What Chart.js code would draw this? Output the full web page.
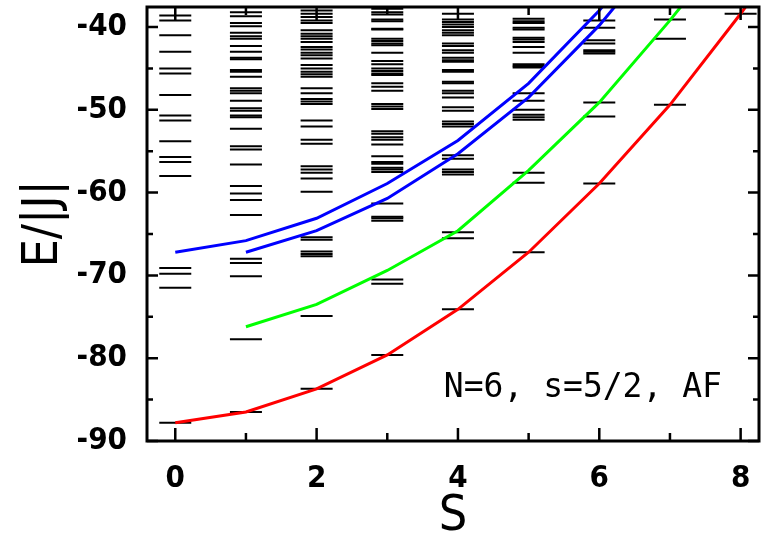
<!DOCTYPE html>
<html>
<head>
<meta charset="utf-8">
<script src="https://cdn.jsdelivr.net/npm/chart.js@4.4.1/dist/chart.umd.min.js"></script>
<style>
  html, body { margin: 0; padding: 0; background: #fff; }
  #wrap { width: 761px; height: 543px; }
</style>
</head>
<body>
<div id="wrap"><canvas id="spectrum" width="761" height="543"></canvas></div>
<script>
// energy levels E/|J| for each total spin S
const levelsS0 = [-38.6, -39.2, -41.0, -43.0, -45.0, -45.6, -48.2, -50.7, -51.3, -53.8, -55.7, -56.3, -58.0, -69.1, -69.8, -71.5, -87.8];
const levelsS1 = [-38.2, -38.7, -39.5, -39.9, -40.7, -41.1, -41.4, -42.3, -43.0, -43.7, -43.9, -45.2, -45.4, -46.0, -47.4, -47.7, -48.0, -48.9, -49.8, -50.1, -50.7, -50.9, -52.3, -54.4, -54.8, -56.6, -59.2, -60.1, -60.9, -62.7, -68.0, -68.5, -70.1, -77.7, -86.5];
const levelsS2 = [-38.0, -38.4, -38.8, -39.2, -39.5, -40.4, -40.8, -41.1, -41.4, -41.8, -42.4, -42.7, -43.1, -43.4, -43.8, -44.6, -45.0, -45.4, -45.7, -46.0, -47.4, -48.0, -48.7, -49.0, -49.3, -51.3, -52.0, -53.6, -54.1, -56.8, -57.2, -57.6, -58.3, -59.9, -65.4, -65.7, -67.1, -67.4, -67.7, -74.9, -83.7];
const levelsS3 = [-37.8, -38.2, -38.5, -39.1, -39.3, -40.2, -40.3, -41.4, -41.7, -42.0, -42.2, -43.1, -44.1, -44.5, -45.0, -45.3, -45.6, -45.8, -46.8, -47.2, -47.7, -49.3, -49.6, -49.9, -52.6, -52.9, -53.3, -53.6, -54.2, -55.6, -56.3, -56.5, -57.0, -57.2, -57.5, -61.3, -62.9, -63.1, -63.4, -70.5, -71.0, -79.6];
const levelsS4 = [-38.4, -39.1, -39.4, -39.7, -40.0, -40.4, -40.7, -41.0, -42.0, -42.3, -42.8, -43.1, -43.7, -44.0, -44.2, -45.2, -45.4, -46.6, -46.8, -47.7, -48.0, -48.5, -49.7, -50.1, -51.4, -51.7, -52.0, -55.5, -55.9, -57.2, -57.5, -57.8, -64.8, -65.5, -74.1];
const levelsS5 = [-39.0, -39.3, -39.5, -40.1, -40.3, -41.3, -41.5, -41.8, -42.4, -43.1, -44.5, -44.7, -44.9, -48.0, -48.9, -50.0, -50.6, -50.9, -51.2, -57.6, -58.8, -67.2];
const levelsS6 = [-39.2, -40.1, -41.6, -42.0, -42.8, -43.0, -43.2, -49.1, -50.8, -58.9];
const levelsS7 = [-39.1, -41.4, -49.4];
const levelsS8 = [-38.4];
const allLevels = [levelsS0, levelsS1, levelsS2, levelsS3, levelsS4, levelsS5, levelsS6, levelsS7, levelsS8];

// rotational bands (lines)
const redS = [0, 1, 2, 3, 4, 5, 6, 7, 8, 9];
const redE = [-87.8, -86.5, -83.7, -79.6, -74.1, -67.2, -58.9, -49.4, -38.4, -26.5];
const greenS = [1, 2, 3, 4, 5, 6, 7, 8];
const greenE = [-76.2, -73.5, -69.4, -64.6, -57.3, -49.1, -39.2, -28.5];
const blueAS = [0, 1, 2, 3, 4, 5, 6, 7];
const blueAE = [-67.2, -65.8, -63.1, -58.9, -53.7, -46.8, -38.0, -27.5];
const blueBS = [1, 2, 3, 4, 5, 6, 7];
const blueBE = [-67.2, -64.6, -60.7, -55.3, -48.5, -39.8, -29.5];

// axes
const xTicks = [0, 2, 4, 6, 8];
const xMinor = [1, 3, 5, 7];
const yTicks = [-90, -80, -70, -60, -50, -40];
const yMinor = [-85, -75, -65, -55, -45];

const toXY = (xs, ys) => xs.map((s, i) => ({ x: s, y: ys[i] }));
const levelPoints = [];
allLevels.forEach((arr, s) => arr.forEach(e => levelPoints.push({ x: s, y: e })));

const tickFont = { family: '"DejaVu Sans Condensed", "DejaVu Sans"', size: 31, weight: 'bold' };
const titleFont = { family: '"DejaVu Sans Condensed", "DejaVu Sans"', size: 50 };

const frame = {
  id: 'frame',
  afterDatasetsDraw(chart) {
    const { ctx, chartArea: a, scales: { x, y } } = chart;
    ctx.save();
    ctx.strokeStyle = '#000';
    ctx.lineCap = 'butt';
    ctx.lineWidth = 2.5;
    const tickX = (v, len) => {
      const px = x.getPixelForValue(v);
      ctx.beginPath();
      ctx.moveTo(px, a.bottom); ctx.lineTo(px, a.bottom - len);
      ctx.moveTo(px, a.top); ctx.lineTo(px, a.top + len);
      ctx.stroke();
    };
    const tickY = (v, len) => {
      const py = y.getPixelForValue(v);
      ctx.beginPath();
      ctx.moveTo(a.left, py); ctx.lineTo(a.left + len, py);
      ctx.moveTo(a.right, py); ctx.lineTo(a.right - len, py);
      ctx.stroke();
    };
    xTicks.forEach(v => tickX(v, 13));
    xMinor.forEach(v => tickX(v, 8));
    yTicks.forEach(v => tickY(v, 11));
    yMinor.forEach(v => tickY(v, 6));
    ctx.lineWidth = 3;
    ctx.strokeRect(a.left, a.top, a.right - a.left, a.bottom - a.top);

    ctx.fillStyle = '#000';
    ctx.font = '33px "DejaVu Sans Mono"';
    ctx.textAlign = 'left';
    ctx.textBaseline = 'middle';
    ctx.fillText('N=6, s=5/2, AF', x.getPixelForValue(3.8), y.getPixelForValue(-83.6));
    ctx.restore();
  }
};

new Chart(document.getElementById('spectrum'), {
  type: 'scatter',
  data: {
    datasets: [
      { label: 'red', data: toXY(redS, redE), showLine: true, borderColor: '#ff0000', borderWidth: 3, pointRadius: 0, tension: 0 },
      { label: 'green', data: toXY(greenS, greenE), showLine: true, borderColor: '#00ff00', borderWidth: 3, pointRadius: 0, tension: 0 },
      { label: 'blueA', data: toXY(blueAS, blueAE), showLine: true, borderColor: '#0000ff', borderWidth: 3, pointRadius: 0, tension: 0 },
      { label: 'blueB', data: toXY(blueBS, blueBE), showLine: true, borderColor: '#0000ff', borderWidth: 3, pointRadius: 0, tension: 0 },
      { label: 'levels', data: levelPoints, showLine: false, pointStyle: 'line', pointRadius: 16, borderColor: '#000', borderWidth: 2, backgroundColor: '#000' }
    ]
  },
  options: {
    responsive: false,
    animation: false,
    events: [],
    layout: { autoPadding: false, padding: { top: 7, right: 2, left: 0, bottom: 0 } },
    plugins: { legend: { display: false }, tooltip: { enabled: false } },
    scales: {
      x: {
        type: 'linear', min: -0.4, max: 8.26,
        grid: { display: false, drawTicks: false },
        border: { display: false },
        afterBuildTicks: s => { s.ticks = xTicks.map(v => ({ value: v })); },
        afterFit: s => { s.height = 102; s.paddingLeft = 0; s.paddingRight = 0; },
        ticks: { color: '#000', padding: 19, font: tickFont },
        title: { display: true, text: 'S', color: '#000', padding: { top: 0, bottom: -4 }, font: titleFont }
      },
      y: {
        type: 'linear', min: -90, max: -37.58,
        grid: { display: false, drawTicks: false },
        border: { display: false },
        afterBuildTicks: s => { s.ticks = yTicks.map(v => ({ value: v })); },
        afterFit: s => { s.width = 147; s.paddingTop = 0; s.paddingBottom = 0; },
        ticks: { color: '#000', padding: 20, font: tickFont },
        title: { display: true, text: 'E/|J|', color: '#000', padding: { top: 14, bottom: 0 }, font: titleFont }
      }
    }
  },
  plugins: [frame]
});
</script>
</body>
</html>
